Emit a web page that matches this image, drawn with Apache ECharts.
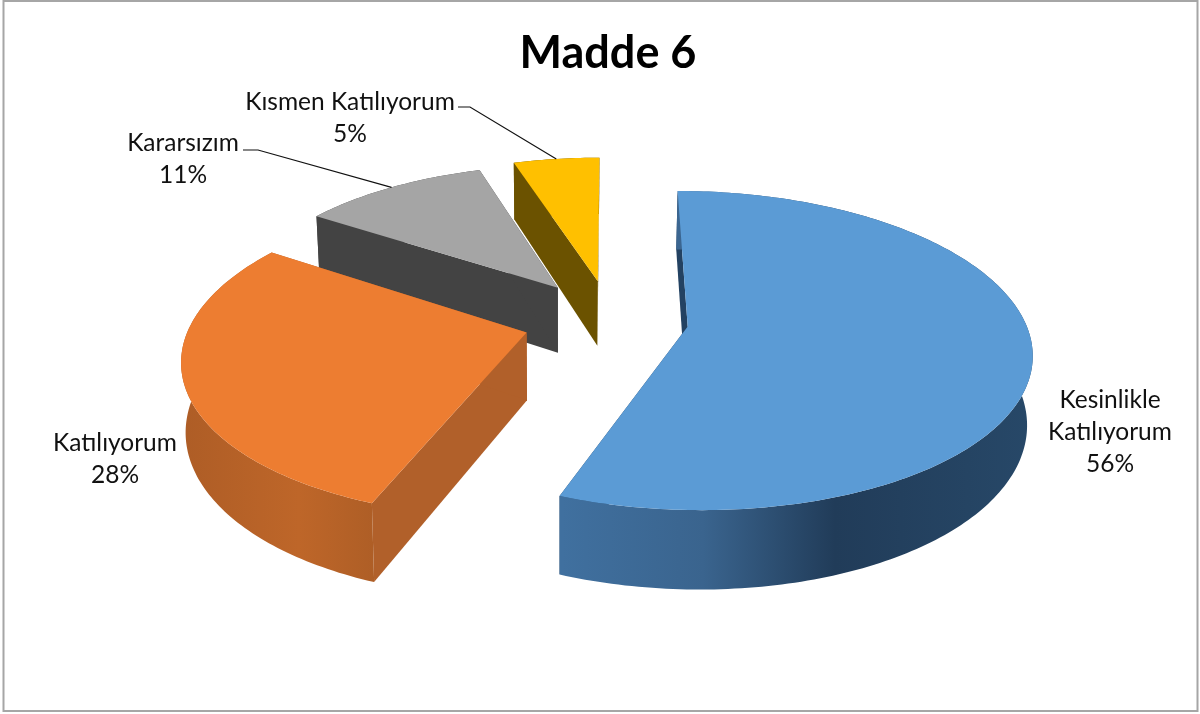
<!DOCTYPE html>
<html><head><meta charset="utf-8">
<style>html,body{margin:0;padding:0;background:#fff}#c{width:1200px;height:714px}</style>
<script src="https://cdn.jsdelivr.net/npm/echarts@6/dist/echarts.min.js"></script>
</head><body><div id="c"></div>
<script>
var titleText = 'Madde 6';
var categories = ['Kesinlikle Katılıyorum', 'Katılıyorum', 'Kararsızım', 'Kısmen Katılıyorum'];
var labelLines = ['Kesinlikle\nKatılıyorum', 'Katılıyorum', 'Kararsızım', 'Kısmen Katılıyorum'];
var values = [55.8, 28.49, 10.81, 4.9];

// style / layout
var explode = [0.23, 0.26, 0.27, 0.265];
var radiusF = [1, 0.995, 0.97, 0.99];
var labelX = [1110, 115, 183, 350];
var labelY = [432, 459, 159, 118];
var leaderFrom = [null, null, [243, 150, 258, 150], [458, 107, 470, 107]];
var topColors = ['#5B9BD5', '#ED7D31', '#A5A5A5', '#FFC000'];
var wallColors = ['#234262', '#B1602A', '#434343', '#6B5200'];
var arcStops = [
  [[0, '#40709F'], [0.3, '#3A648E'], [0.58, '#213C59'], [1, '#274868']],
  [[0, '#AE5D26'], [0.6, '#BE6629'], [1, '#AE5E26']],
  [[0, '#434343'], [1, '#434343']],
  [[0, '#6B5200'], [1, '#6B5200']]
];
var arcRange = [[562, 1033], [183, 376], [318, 483], [515, 598]];

var X0 = 611, Y0 = 320, R = 337, K = 154, E = 0.15, D = 67, XC = 560, XS = 0.012;

function project(X, Y, z) {
  var s = 1 / (1 + E * Y);
  var x = X0 + R * X * s;
  return [x - z * (x - XC) * XS, Y0 - K * Y * s + z * D * s];
}
function polar(deg) {
  var t = deg * Math.PI / 180;
  return [Math.sin(t), Math.cos(t)];
}

var total = values.reduce(function (a, b) { return a + b; }, 0);
var spans = values.map(function (v) { return v / total * 360; });
var starts = [];
spans.reduce(function (a, b, i) { starts[i] = a; return a + b; }, 0);

function renderItem(params, api) {
  var i = api.value(0);
  var a0 = starts[i], a1 = a0 + spans[i], mid = (a0 + a1) / 2;
  var m = polar(mid);
  var ax = m[0] * explode[i], ay = m[1] * explode[i];
  var r = radiusF[i];
  var top = [], bottom = [];
  var n = Math.ceil(a1 - a0);
  for (var k = 0; k <= n; k++) {
    var p = polar(a0 + (a1 - a0) * k / n);
    top.push(project(ax + r * p[0], ay + r * p[1], 0));
    bottom.push(project(ax + r * p[0], ay + r * p[1], 1));
  }
  var apexT = project(ax, ay, 0), apexB = project(ax, ay, 1);
  var c = [];
  var wall = { fill: wallColors[i] };
  c.push({ type: 'polygon', shape: { points: [apexT, top[0], bottom[0], apexB] }, style: wall, silent: true });
  c.push({ type: 'polygon', shape: { points: [apexT, top[top.length - 1], bottom[bottom.length - 1], apexB] }, style: wall, silent: true });
  c.push({
    type: 'polygon',
    shape: { points: top.concat(bottom.slice().reverse()) },
    style: { fill: {
      type: 'linear', x: arcRange[i][0], y: 0, x2: arcRange[i][1], y2: 0, global: true,
      colorStops: arcStops[i].map(function (s) { return { offset: s[0], color: s[1] }; })
    } },
    silent: true
  });
  c.push({ type: 'polygon', shape: { points: [apexT].concat(top) }, style: { fill: topColors[i] }, silent: true });
  var pct = Math.round(values[i] / total * 100) + '%';
  c.push({
    type: 'text', silent: true,
    style: {
      text: labelLines[i] + '\n' + pct, x: labelX[i], y: labelY[i],
      align: 'center', verticalAlign: 'middle',
      font: '24.5px Lato', lineHeight: 32, fill: '#111'
    }
  });
  if (leaderFrom[i]) {
    var e = project(ax + r * m[0], ay + r * m[1], 0);
    var f = leaderFrom[i];
    c.push({
      type: 'polyline', silent: true,
      shape: { points: [[f[0], f[1]], [f[2], f[3]], e] },
      style: { stroke: '#111', lineWidth: 1.2, fill: null }
    });
  }
  return { type: 'group', children: c };
}

var order = [3, 2, 1, 0];
var chart = echarts.init(document.getElementById('c'), null, { renderer: 'canvas' });
chart.setOption({
  animation: false,
  backgroundColor: '#fff',
  title: {
    text: titleText, left: 603, top: 26, textAlign: 'center',
    textStyle: { fontFamily: 'Lato', fontWeight: 'bold', fontSize: 45, color: '#000' }
  },
  graphic: [{
    type: 'rect', silent: true, z: -1,
    shape: { x: 3.5, y: 1, width: 1194, height: 710 },
    style: { fill: '#fff', stroke: '#A6A6A6', lineWidth: 2 }
  }],
  series: [{
    type: 'custom',
    coordinateSystem: 'none',
    data: order.map(function (i) { return { name: categories[i], value: [i, values[i]] }; }),
    renderItem: renderItem
  }]
});
</script></body></html>
